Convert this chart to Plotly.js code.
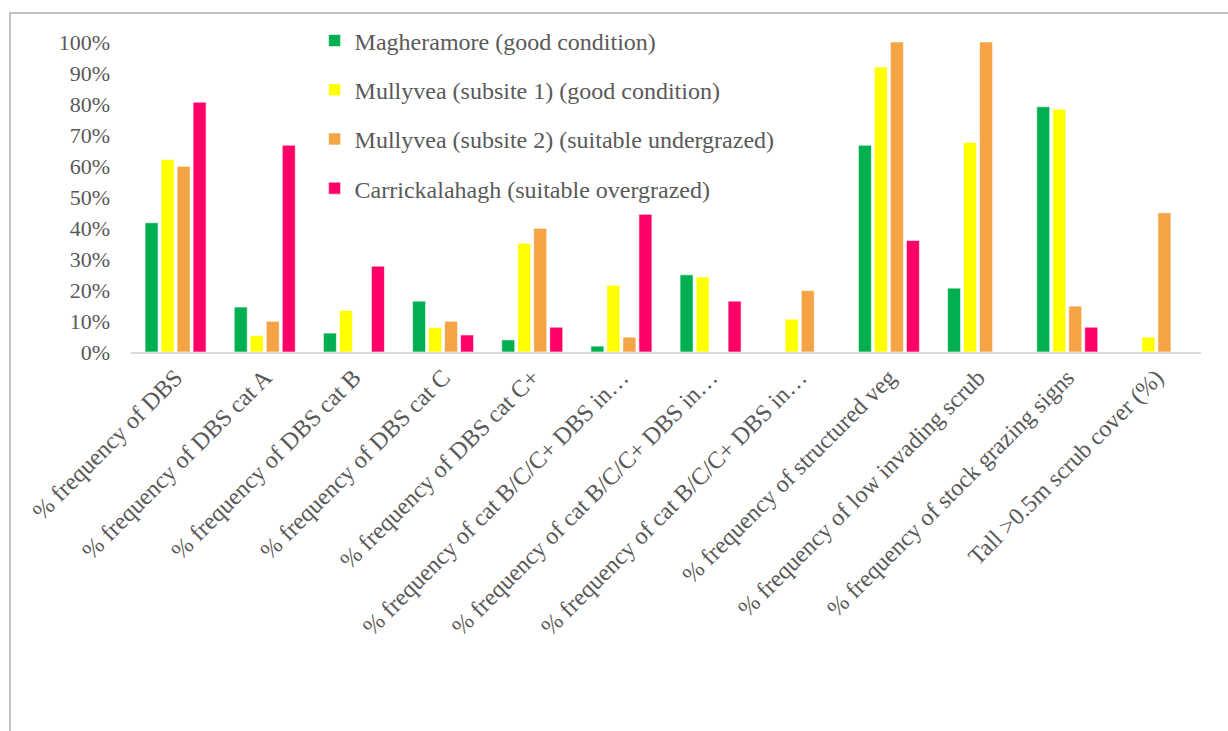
<!DOCTYPE html>
<html>
<head>
<meta charset="utf-8">
<script src="https://cdn.plot.ly/plotly-3.0.1.min.js"></script>
<style>
  html, body { margin: 0; padding: 0; background: #ffffff; }
  #wrap { position: relative; width: 1228px; height: 731px; overflow: hidden; }
  #chart { position: absolute; left: 0; top: 0; width: 1228px; height: 731px; }
  #frame {
    position: absolute; left: 9px; top: 12px; width: 1400px; height: 900px;
    border-left: 2px solid #c4c4c4; border-top: 2px solid #c4c4c4;
    pointer-events: none;
  }
</style>
</head>
<body>
<div id="wrap">
  <div id="chart"></div>
  <div id="frame"></div>
</div>
<script>
// Survey indicators (x-axis categories, as labelled on the chart)
const categories = [
  "% frequency of DBS",
  "% frequency of DBS cat A",
  "% frequency of DBS cat B",
  "% frequency of DBS cat C",
  "% frequency of DBS cat C+",
  "% frequency of cat B/C/C+ DBS in…",
  "% frequency of cat B/C/C+ DBS in…",
  "% frequency of cat B/C/C+ DBS in…",
  "% frequency of structured veg",
  "% frequency of low invading scrub",
  "% frequency of stock grazing signs",
  "Tall >0.5m scrub cover (%)"
];

// Site names (legend)
const siteNames = [
  "Magheramore (good condition)",
  "Mullyvea (subsite 1) (good condition)",
  "Mullyvea (subsite 2) (suitable undergrazed)",
  "Carrickalahagh (suitable overgrazed)"
];

// Values in percent, one array per site (null = no bar)
const magheramore    = [41.7, 14.5, 6.1, 16.4, 3.9, 1.9, 24.9, null, 66.7, 20.6, 79.1, null];
const mullyveaSub1   = [62.1, 5.3, 13.4, 7.9, 35.1, 21.5, 24.2, 10.6, 91.9, 67.6, 78.3, 4.8];
const mullyveaSub2   = [59.9, 9.9, null, 9.9, 39.9, 4.8, null, 19.8, 100, 100, 14.8, 44.9];
const carrickalahagh = [80.6, 66.7, 27.7, 5.5, 8.0, 44.4, 16.4, null, 36.0, null, 8.0, null];

const siteColors = ["#00B050", "#FFFF00", "#F4A444", "#FF0066"];

// Y axis ticks
const yTickVals = [0, 10, 20, 30, 40, 50, 60, 70, 80, 90, 100];
const yTickText = ["0%", "10%", "20%", "30%", "40%", "50%", "60%", "70%", "80%", "90%", "100%"];

const xIdx = categories.map((_, i) => i);
const series = [magheramore, mullyveaSub1, mullyveaSub2, carrickalahagh];

const traces = series.map((vals, k) => ({
  type: "bar",
  x: xIdx,
  y: vals,
  name: siteNames[k],
  legendgroup: "g" + k,
  marker: { color: siteColors[k], line: { color: "rgba(255,255,255,0.6)", width: 1 } },
  hoverinfo: "skip"
}));

const fontFamily = '"Liberation Serif", "Times New Roman", serif';
const textColor = "#595959";

const layout = {
  width: 1228,
  height: 731,
  margin: { l: 131, r: 27, t: 42, b: 379 },
  paper_bgcolor: "#ffffff",
  plot_bgcolor: "#ffffff",
  barmode: "group",
  bargap: 0.282,
  bargroupgap: 0.1875,
  font: { family: fontFamily, color: textColor, size: 22 },
  showlegend: true,
  legend: {
    x: 0.1716, xanchor: "left",
    y: 1.076, yanchor: "top",
    bgcolor: "rgba(0,0,0,0)",
    font: { family: fontFamily, size: 24, color: textColor },
    traceorder: "grouped",
    tracegroupgap: 15,
    itemclick: false
  },
  xaxis: {
    type: "linear",
    range: [-0.5, categories.length - 0.5],
    tickmode: "array",
    tickvals: xIdx,
    ticktext: categories,
    tickangle: -45,
    tickfont: { family: fontFamily, size: 24, color: textColor },
    showgrid: false,
    zeroline: false,
    showline: true,
    linecolor: "#d9d9d9",
    linewidth: 2,
    ticks: "",
    fixedrange: true
  },
  yaxis: {
    range: [0, 100],
    tickmode: "array",
    tickvals: yTickVals,
    ticktext: yTickText,
    tickfont: { family: fontFamily, size: 22, color: textColor },
    showgrid: false,
    zeroline: false,
    showline: false,
    ticks: "",
    ticklabelstandoff: 20,
    fixedrange: true
  }
};

Plotly.newPlot("chart", traces, layout, { displayModeBar: false, staticPlot: true });
</script>
</body>
</html>
